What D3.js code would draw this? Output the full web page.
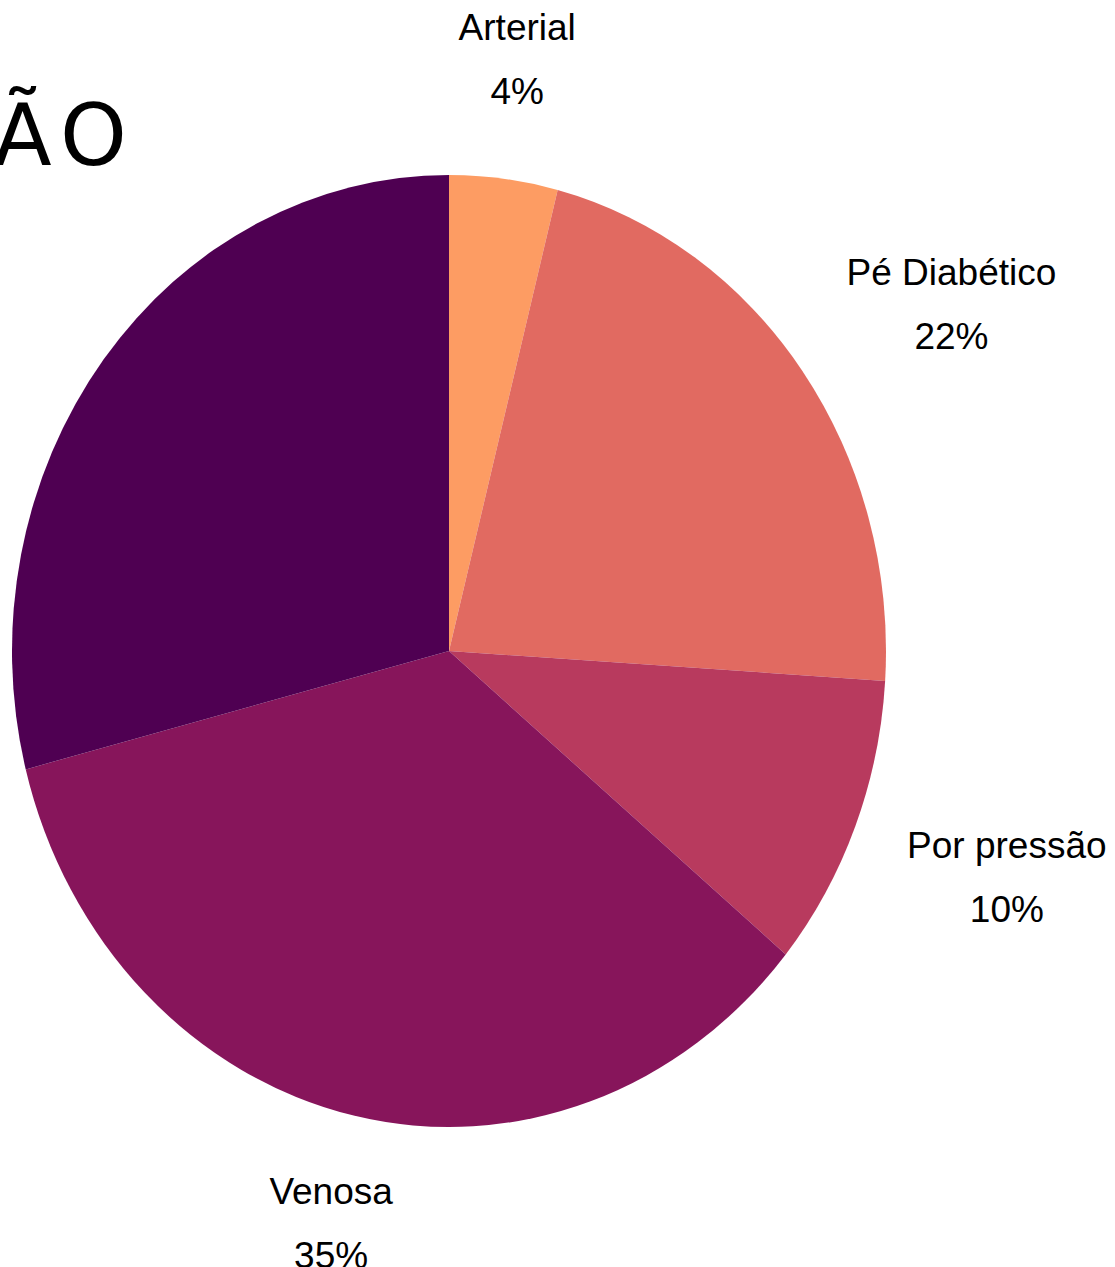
<!DOCTYPE html>
<html>
<head>
<meta charset="utf-8">
<script src="https://cdn.jsdelivr.net/npm/d3@7"></script>
<style>
  body { margin: 0; background: #fff; overflow: hidden; }
  svg { display: block; }
</style>
</head>
<body>
<script>
// wound types and their share (%)
var categories = ["Arterial", "Pé Diabético", "Por pressão", "Venosa", "Outras"];
var shares = [4, 22, 10, 35, 29];
var colors = ["#fd9c63", "#e16a61", "#b83a5e", "#87155b", "#4f0052"];
// only the first four slices carry a label
var labeled = [true, true, true, true, false];
// nudges for each label (px)
var labelDx = [-7, 17, 0, 13, 0];
var labelDy = [0, 3, 2, -17, 0];

var w = 1115;
var h = 1267;
var cx = 449;
var cy = 651;
var ry = 476;
var rx = 437;
var labelR = 600;

var svg = d3.select("body")
    .append("svg")
    .attr("width", w)
    .attr("height", h);

// title, mostly off the left edge
svg.append("text")
    .attr("x", 137)
    .attr("y", 165)
    .attr("text-anchor", "end")
    .style("font-family", "DejaVu Sans")
    .style("font-size", "85px")
    .style("letter-spacing", "10px")
    .text("CLASSIFICAÇÃO");

var pie = d3.pie()
    .sort(null)
    .value(function(d) { return d.value; });

var data = categories.map(function(c, i) {
    return { name: c, value: shares[i], color: colors[i], show: labeled[i], dx: labelDx[i], dy: labelDy[i] };
});
var arcs = pie(data);

var arc = d3.arc()
    .innerRadius(0)
    .outerRadius(ry);

// the pie is stretched into an ellipse
var g = svg.append("g")
    .attr("transform", "translate(" + cx + "," + cy + ") scale(" + (rx / ry) + ",1)");

g.selectAll("path")
    .data(arcs)
    .enter()
    .append("path")
    .attr("d", arc)
    .attr("fill", function(d) { return d.data.color; });

var total = d3.sum(shares);

var labels = svg.selectAll("g.label")
    .data(arcs.filter(function(d) { return d.data.show; }))
    .enter()
    .append("g")
    .attr("class", "label")
    .attr("transform", function(d) {
        var a = (d.startAngle + d.endAngle) / 2;
        var x = cx + labelR * Math.sin(a) + d.data.dx;
        var y = cy - labelR * Math.cos(a) + d.data.dy;
        return "translate(" + x + "," + y + ")";
    })
    .style("font-family", "Liberation Sans, Arial, sans-serif")
    .style("font-size", "37px")
    .attr("text-anchor", "middle")
    .attr("fill", "#000");

labels.append("text")
    .attr("y", -16)
    .text(function(d) { return d.data.name; });

labels.append("text")
    .attr("y", 48)
    .text(function(d) { return Math.round(d.data.value / total * 100) + "%"; });
</script>
</body>
</html>
